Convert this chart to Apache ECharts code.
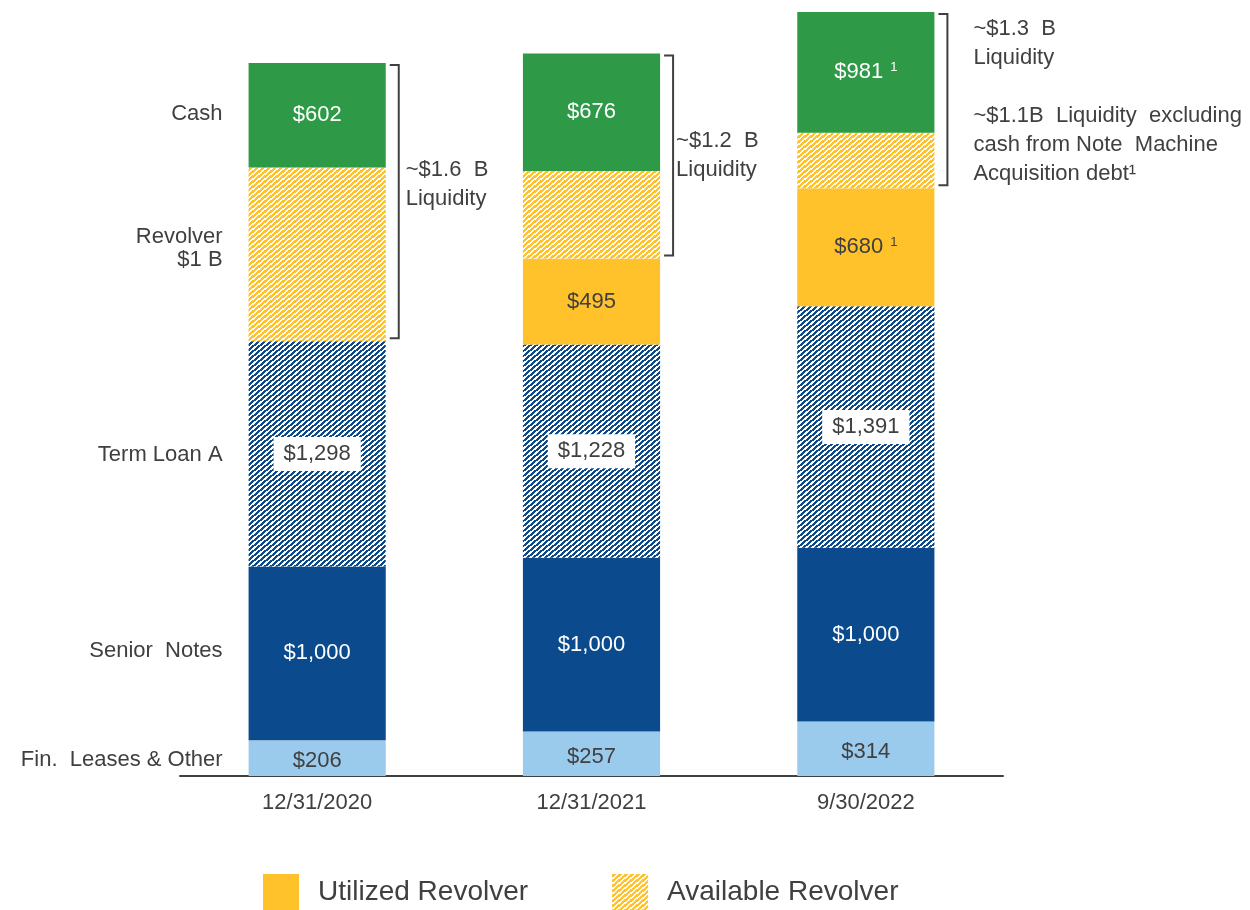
<!DOCTYPE html>
<html>
<head>
<meta charset="utf-8">
<script src="https://cdn.jsdelivr.net/npm/echarts@6/dist/echarts.min.js"></script>
<style>
  html, body { margin: 0; padding: 0; background: #ffffff; }
  #chart { width: 1250px; height: 910px; }
</style>
</head>
<body>
<div id="chart"></div>
<script>
// ---------------- data ----------------
const categories = ['12/31/2020', '12/31/2021', '9/30/2022'];
const finLeases = [206, 257, 314];
const seniorNotes = [1000, 1000, 1000];
const termLoanA = [1298, 1228, 1391];
const utilizedRevolver = [0, 495, 680];
const availableRevolver = [1000, 505, 320];
const cash = [602, 676, 981];
const cashFootnotes = ['', '', '1'];
const utilizedFootnotes = ['', '', '1'];
const segmentNames = ['Fin.  Leases & Other', 'Senior  Notes', 'Term Loan A', 'Revolver\n$1 B', 'Cash'];
const liquidityNotes = [
  '~$1.6  B\nLiquidity',
  '~$1.2  B\nLiquidity',
  '~$1.3  B\nLiquidity\n\n~$1.1B  Liquidity  excluding\ncash from Note  Machine\nAcquisition debt¹'
];

// ---------------- layout / style constants ----------------
const Y_MAX = 4400;
const BAR_RATIO = 0.5;
const FONT = '"Liberation Sans", Arial, sans-serif';
const TEXT = '#404040';
const C_CASH = '#2E9A47';
const C_YELLOW = '#FFC22B';
const C_NAVY = '#0B4A8C';
const C_LIGHT = '#9BCBEC';
const NOTE_LAYOUT = [
  { gap: 7, anchor: 'middle', dy: -17 },
  { gap: 3, anchor: 'middle', dy: 0 },
  { gap: 26, anchor: 'top', dy: 0 }
];
const NAME_DY = [2, -2, 1, -6, -1];

// crisp diagonal stripe pattern: tile 6x5, stripes along lines 5x+6y = const ("/" direction)
function hatch(color, threshold) {
  const w = 6, h = 5;
  const c = document.createElement('canvas');
  c.width = w; c.height = h;
  const ctx = c.getContext('2d');
  ctx.fillStyle = '#ffffff';
  ctx.fillRect(0, 0, w, h);
  ctx.fillStyle = color;
  for (let y = 0; y < h; y++) {
    for (let x = 0; x < w; x++) {
      if (((5 * x + 6 * y) % 30) < threshold) ctx.fillRect(x, y, 1, 1);
    }
  }
  return { image: c, repeat: 'repeat' };
}

function fmt(v) { return '$' + v.toLocaleString('en-US'); }

function barSeries(name, data, color, labelColor, marks, extra) {
  return {
    name: name,
    type: 'bar',
    stack: 'total',
    barWidth: (BAR_RATIO * 100) + '%',
    data: data,
    itemStyle: { color: color },
    emphasis: { disabled: true },
    label: Object.assign({
      show: true,
      position: 'inside',
      color: labelColor,
      fontSize: 22,
      fontFamily: FONT,
      formatter: p => {
        if (!(p.value > 0)) return '';
        const m = marks && marks[p.dataIndex] ? '{s|' + marks[p.dataIndex] + '}' : '';
        return fmt(p.value) + m;
      },
      rich: {
        s: { fontSize: 13, fontFamily: FONT, color: labelColor, verticalAlign: 'top', padding: [0, 0, 0, 7] }
      }
    }, extra || {})
  };
}

// bracket data: bottom = debt + utilized, top = total
const bracketData = categories.map((c, i) => {
  const bottom = finLeases[i] + seniorNotes[i] + termLoanA[i] + utilizedRevolver[i];
  const top = bottom + availableRevolver[i] + cash[i];
  return [i, bottom, top];
});

// segment name positions from first bar
const firstStack = [finLeases[0], seniorNotes[0], termLoanA[0], utilizedRevolver[0] + availableRevolver[0], cash[0]];
const nameData = [];
let acc = 0;
firstStack.forEach((v, k) => { nameData.push([0, acc + v / 2, k]); acc += v; });

const chart = echarts.init(document.getElementById('chart'), null, { renderer: 'canvas' });

const option = {
  animation: false,
  backgroundColor: '#ffffff',
  grid: { left: 180, right: 247, top: 12, bottom: 134, containLabel: false },
  legend: {
    data: ['Utilized Revolver', 'Available Revolver'],
    left: 258,
    top: 869,
    icon: 'rect',
    itemWidth: 36,
    itemHeight: 36,
    itemGap: 84,
    selectedMode: false,
    formatter: n => '{t|' + n + '}',
    textStyle: {
      color: TEXT,
      fontSize: 28,
      fontFamily: FONT,
      rich: { t: { color: TEXT, fontSize: 28, fontFamily: FONT, padding: [0, 0, 0, 14] } }
    }
  },
  xAxis: {
    type: 'category',
    data: categories,
    axisTick: { show: false },
    axisLine: { lineStyle: { color: TEXT, width: 2 } },
    axisLabel: { color: TEXT, fontSize: 22, fontFamily: FONT, margin: 16 }
  },
  yAxis: {
    type: 'value',
    min: 0,
    max: Y_MAX,
    show: false,
    splitLine: { show: false }
  },
  series: [
    barSeries('Fin. Leases & Other', finLeases, C_LIGHT, TEXT, null, { offset: [0, 3] }),
    barSeries('Senior Notes', seniorNotes, C_NAVY, '#ffffff'),
    barSeries('Term Loan A', termLoanA, hatch(C_NAVY, 16), TEXT, null,
      { backgroundColor: '#ffffff', padding: [6, 10] }),
    barSeries('Utilized Revolver', utilizedRevolver, C_YELLOW, TEXT, utilizedFootnotes),
    barSeries('Available Revolver', availableRevolver, hatch(C_YELLOW, 18), TEXT, null, { show: false }),
    barSeries('Cash', cash, C_CASH, '#ffffff', cashFootnotes),
    {
      type: 'custom',
      name: 'brackets',
      silent: true,
      clip: false,
      data: bracketData,
      encode: { x: 0, y: [1, 2] },
      renderItem: function (params, api) {
        const i = api.value(0);
        const top = Math.min(api.value(2), Y_MAX);
        const pT = api.coord([i, top]);
        const pB = api.coord([i, api.value(1)]);
        const band = api.size([1, 0])[0];
        const x0 = pT[0] + band * BAR_RATIO / 2 + 4;
        const x1 = x0 + 9;
        const yT = pT[1] + 2;
        const yB = pB[1] - 3;
        const lay = NOTE_LAYOUT[i];
        return {
          type: 'group',
          children: [
            {
              type: 'polyline',
              shape: { points: [[x0, yT], [x1, yT], [x1, yB], [x0, yB]] },
              style: { stroke: TEXT, lineWidth: 2, fill: null }
            },
            {
              type: 'text',
              x: x1 + lay.gap,
              y: lay.anchor === 'top' ? yT : (yT + yB) / 2 + lay.dy,
              style: {
                text: liquidityNotes[i],
                fill: TEXT,
                fontSize: 22,
                fontFamily: FONT,
                lineHeight: 29,
                align: 'left',
                verticalAlign: lay.anchor
              }
            }
          ]
        };
      }
    },
    {
      type: 'custom',
      name: 'segmentNames',
      silent: true,
      clip: false,
      data: nameData,
      encode: { x: 0, y: 1 },
      renderItem: function (params, api) {
        const p = api.coord([api.value(0), api.value(1)]);
        const band = api.size([1, 0])[0];
        const k = api.value(2);
        return {
          type: 'text',
          x: p[0] - band * BAR_RATIO / 2 - 26,
          y: p[1] + NAME_DY[k],
          style: {
            text: segmentNames[k],
            fill: TEXT,
            fontSize: 22,
            fontFamily: FONT,
            lineHeight: 23,
            align: 'right',
            verticalAlign: 'middle'
          }
        };
      }
    }
  ]
};

chart.setOption(option);
</script>
</body>
</html>
